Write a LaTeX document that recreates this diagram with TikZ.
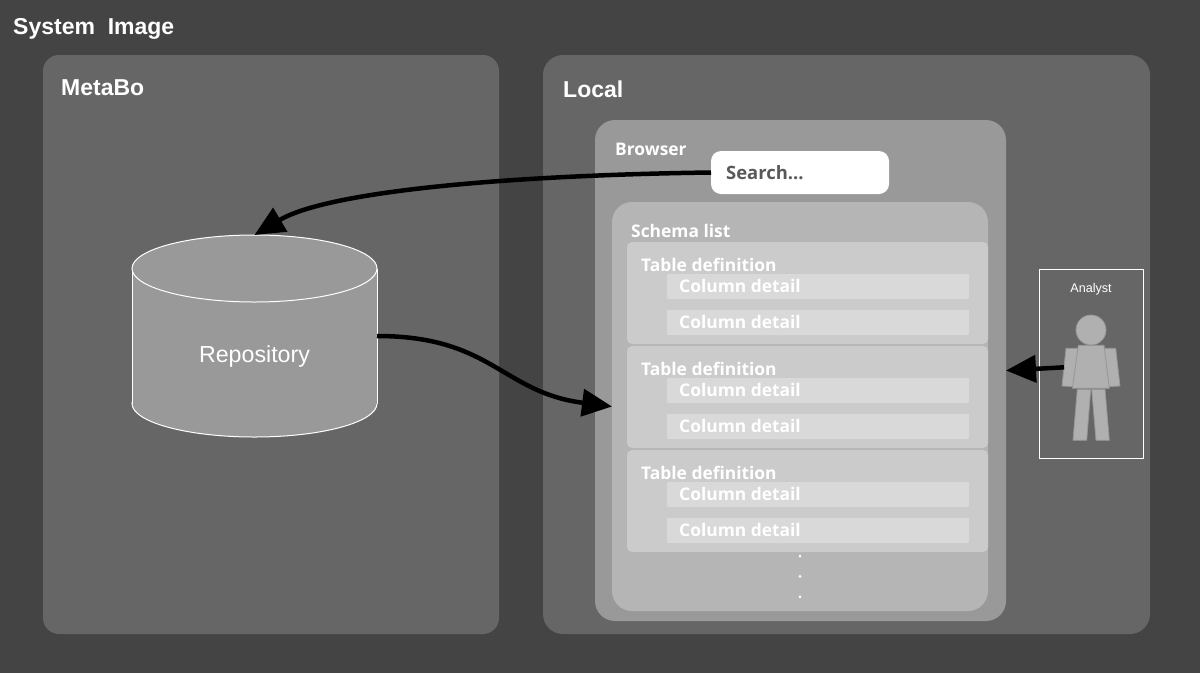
\documentclass[tikz,border=0pt]{standalone}
\usepackage{fontspec}
\setmainfont{Liberation Sans}
\newfontfamily\uifont{Open Sans}
\usetikzlibrary{positioning,arrows.meta}
\definecolor{sysbg}{HTML}{444444}
\definecolor{panelgrey}{HTML}{666666}
\definecolor{browsergrey}{HTML}{999999}
\definecolor{schemagrey}{HTML}{B5B5B5}
\definecolor{tablegrey}{HTML}{CBCBCB}
\definecolor{colgrey}{HTML}{D9D9D9}
\definecolor{searchtxt}{HTML}{595959}
\definecolor{persongrey}{HTML}{B0B0B0}
\definecolor{personline}{HTML}{969696}
\tikzset{
  box/.style    ={rectangle, anchor=north west, inner sep=0pt, outer sep=0pt},
  panel/.style  ={box, rounded corners=16pt, fill=panelgrey},
  inpanel/.style={box, rounded corners=20pt},
  tabl/.style   ={box, rounded corners=5pt, fill=tablegrey, minimum width=361pt, minimum height=102pt},
  coln/.style   ={box, rounded corners=1pt, fill=colgrey, minimum width=302pt, minimum height=25pt},
  ttl/.style    ={anchor=west, inner sep=0pt, text=white, font=\fontsize{23}{26}\selectfont\bfseries},
  uil/.style    ={anchor=west, inner sep=0pt, text=white, font=\fontsize{17.4}{20}\uifont\bfseries},
  dotp/.style   ={circle, fill=white, inner sep=0pt, minimum size=3pt},
  bodyp/.style  ={fill=persongrey, draw=personline, line width=0.8pt},
  cyl/.style    ={fill=browsergrey, draw=white, line width=1pt},
  fl/.style     ={-{Triangle[length=30pt,width=27pt]}, line width=4.5pt, draw=black}
}
\begin{document}
\begin{tikzpicture}[x=1pt,y=-1pt]
  \useasboundingbox (0,0) rectangle (1200,673);
  \fill[sysbg] (0,0) rectangle (1200,673);
  \node[ttl] (sysl) at (13,29) {System\ \ Image};

  \node[panel,minimum width=456pt,minimum height=579pt] (metabo) at (43,55) {};
  \node[ttl] (metabol) at (61,88) {MetaBo};
  \node[panel,right=44pt of metabo.north east,anchor=north west,rounded corners=20pt,minimum width=607pt,minimum height=579pt] (local) {};
  \node[ttl] (locall) at (563,89) {Local};

  % repository drum
  \node[box,anchor=center,minimum width=245pt,minimum height=202pt] (repo) at (254.5,336) {};
  \draw[cyl] (254.5,403.5) ellipse (122.5 and 33.5);
  \fill[browsergrey] (132.5,268.5) rectangle (376.5,403.5);
  \draw[cyl] (repo.west |- 0,268.5) -- (repo.west |- 0,403.5);
  \draw[cyl] (repo.east |- 0,268.5) -- (repo.east |- 0,403.5);
  \draw[cyl] (254.5,268.5) ellipse (122.5 and 33.5);
  \node[text=white,font=\fontsize{23.2}{26}\selectfont,inner sep=0pt] (repol) at (254.5,356) {Repository};

  % browser and what is in it
  \node[inpanel,fill=browsergrey,minimum width=411pt,minimum height=501pt] (browser) at (595,120) {};
  \node[uil] (browserl) at (615,149.5) {Browser};
  \node[box,rounded corners=10pt,fill=white,minimum width=178pt,minimum height=43pt] (search) at (711,151) {};
  \node[uil,text=searchtxt,font=\fontsize{18.4}{20}\uifont\bfseries] (searchl) at (726,173) {Search...};
  \node[inpanel,fill=schemagrey,minimum width=376pt,minimum height=409pt] (schema) at (612,202) {};
  \node[uil] (schemal) at (631,231) {Schema list};

  \node[tabl] (tba) at (627,242) {};
  \node[tabl,below=2pt of tba.south west,anchor=north west] (tbb) {};
  \node[tabl,below=2pt of tbb.south west,anchor=north west] (tbc) {};
  \foreach \t/\n in {tba/a,tbb/b,tbc/c}{
    \node[uil,below right=23pt and 14pt of \t.north west,anchor=west] (tl\n) {Table definition};
    \node[coln,below right=32pt and 40pt of \t.north west,anchor=north west] (c\n1) {};
    \node[coln,below=11pt of c\n1.south west,anchor=north west] (c\n2) {};
    \node[uil,right=12pt of c\n1.west,yshift=0.5pt] (cl\n1) {Column detail};
    \node[uil,right=12pt of c\n2.west,yshift=0.5pt] (cl\n2) {Column detail};
  }
  \node[dotp] (dota) at (800,556) {};
  \node[dotp,below=17pt of dota] (dotb) {};
  \node[dotp,below=17pt of dotb] (dotc) {};

  % analyst
  \node[box,draw=white,line width=1pt,minimum width=104pt,minimum height=189pt] (analyst) at (1039,269) {};
  \node[text=white,font=\fontsize{12.6}{14}\selectfont,inner sep=0pt] (analystl) at (1091,289.5) {Analyst};
  \draw[bodyp] (1077.3,389.3) -- (1090.7,389.3) -- (1086.7,440.3) -- (1073,440.3) -- cycle;
  \draw[bodyp] (1091.7,389.3) -- (1105,389.3) -- (1109.3,440.3) -- (1096,440.3) -- cycle;
  \draw[bodyp] (1066,348.3) -- (1079,348.3) -- (1075,386.7) -- (1062,386) -- cycle;
  \draw[bodyp] (1102.7,348.3) -- (1115.7,348.3) -- (1120,386) -- (1106.7,386.7) -- cycle;
  \draw[bodyp] (1078.3,345.3) -- (1104,345.3) -- (1109.3,388.3) -- (1072.3,388.3) -- cycle;
  \node[circle,bodyp,minimum size=30pt,inner sep=0pt] (head) at (1091,330) {};
  \coordinate (armpt) at (1064,367.3);

  \draw[fl] (search.west) .. controls (520,175) and (330,190) .. (repo.north);
  \draw[fl] (repo.east) .. controls +(115,0) and +(-110,-14) .. (schema.west);
  \draw[fl] (armpt) -- (browser.east);
\end{tikzpicture}
\end{document}
